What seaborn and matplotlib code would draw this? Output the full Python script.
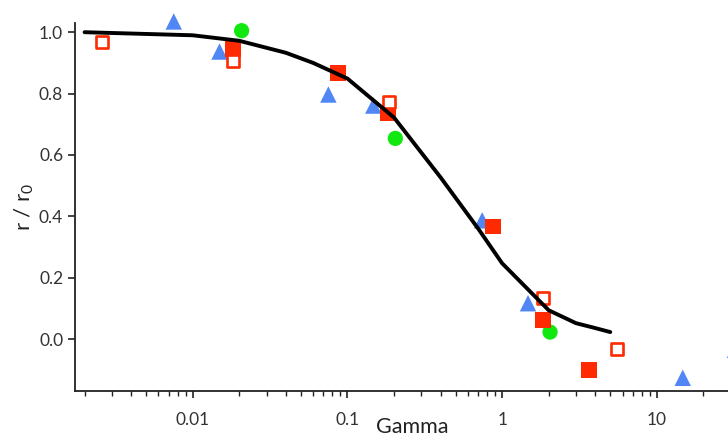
import numpy as np
import pandas as pd
import seaborn as sns
import matplotlib.pyplot as plt

# data
open_sq_x = [0.0026, 0.0181, 0.187, 1.84, 5.55]
open_sq_y = [0.969, 0.907, 0.771, 0.133, -0.031]

fill_sq_x = [0.0181, 0.0874, 0.184, 0.875, 1.84, 3.64]
fill_sq_y = [0.946, 0.868, 0.735, 0.367, 0.062, -0.100]

tri_x = [0.00754, 0.0149, 0.0753, 0.147, 0.743, 1.47, 14.7, 32.0]
tri_y = [1.035, 0.937, 0.797, 0.761, 0.387, 0.117, -0.126, -0.035]

circ_x = [0.0207, 0.204, 2.04]
circ_y = [1.005, 0.654, 0.023]

fit_x = [0.002, 0.01, 0.02, 0.04, 0.06, 0.1, 0.2, 0.4, 0.7, 1.0, 2.0, 3.0, 4.0, 5.0]
fit_y = [1.0, 0.99, 0.972, 0.933, 0.90, 0.849, 0.722, 0.527, 0.36, 0.247, 0.094, 0.052, 0.036, 0.023]

red = '#ff2a00'
blue = '#5186f5'
green = '#10e810'

sns.set_style('ticks')
plt.rcParams['font.family'] = ['Lato', 'DejaVu Sans']
plt.rcParams['mathtext.default'] = 'regular'

fig = plt.figure(figsize=(7.28, 4.38), dpi=100)
# axes runs off the right edge like the reference crop
ax = fig.add_axes([75/728, 47/438, 675/728, 368/438])

kw = dict(ax=ax, zorder=3, clip_on=False)
sns.scatterplot(x=tri_x, y=tri_y, marker='^', s=140, color=blue, edgecolor='none', **kw)
sns.scatterplot(x=circ_x, y=circ_y, marker='o', s=120, color=green, edgecolor='none', **kw)
sns.scatterplot(x=fill_sq_x, y=fill_sq_y, marker='s', s=130, color=red, edgecolor='none', **kw)
sns.scatterplot(x=open_sq_x, y=open_sq_y, marker='s', s=85, facecolor='white',
                edgecolor=red, linewidth=1.9, **kw)
sns.lineplot(x=fit_x, y=fit_y, color='black', lw=2.8, ax=ax, zorder=4)

ax.set_xscale('log')
ax.set_xlim(0.001734, 40)
ax.set_ylim(-0.169, 1.03)
ax.set_yticks([0.0, 0.2, 0.4, 0.6, 0.8, 1.0])
ax.set_yticklabels(['0.0', '0.2', '0.4', '0.6', '0.8', '1.0'])
ax.set_xticks([0.01, 0.1, 1, 10])
ax.set_xticklabels(['0.01', '0.1', '1', '10'])

sns.despine(ax=ax)
for s in ['left', 'bottom']:
    ax.spines[s].set_linewidth(1.3)
    ax.spines[s].set_color('#222222')
ax.tick_params(axis='both', which='major', labelsize=12.5, colors='#222222',
               labelcolor='#333333', width=1.2, length=5, direction='out')
ax.tick_params(axis='x', which='major', pad=10)
ax.tick_params(axis='x', which='minor', width=1.0, length=3.5, color='#222222')

ax.set_xlabel('Gamma', fontsize=15.5, color='#222222')
ax.xaxis.set_label_coords(0.5, -0.07)
ax.set_ylabel('r / r$_0$', fontsize=16, color='#222222', labelpad=2)

fig.savefig('out.png', dpi=100)
